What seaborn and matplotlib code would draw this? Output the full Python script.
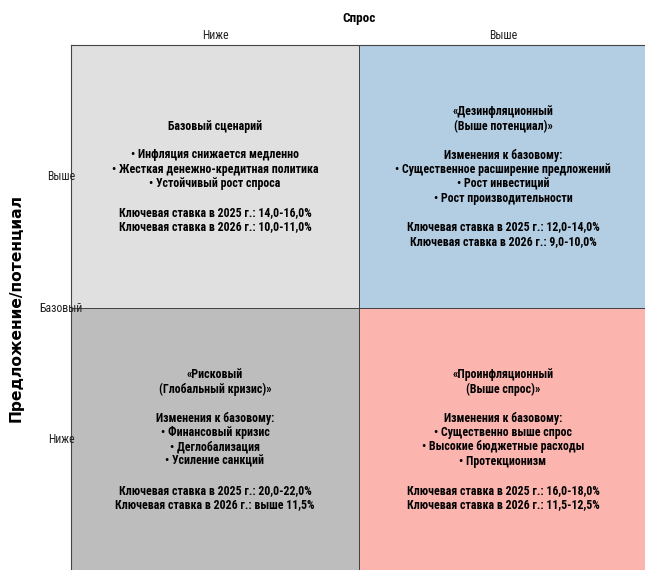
import matplotlib
matplotlib.use("Agg")
import matplotlib.pyplot as plt
from matplotlib.colors import ListedColormap
from matplotlib.transforms import ScaledTranslation
import numpy as np
import seaborn as sns

# quadrant layout: rows = supply (Выше, Ниже), cols = demand (Ниже, Выше)
demand_labels = ["Ниже", "Выше"]
supply_labels = ["Выше", "Базовый", "Ниже"]
quadrant_ids = [[0, 1], [2, 3]]
quadrant_colors = ["#e0e0e0", "#b3cde3", "#bdbdbd", "#fbb4ae"]

quadrant_texts = [
    [
        "Базовый сценарий\n\n"
        "• Инфляция снижается медленно\n"
        "• Жесткая денежно-кредитная политика\n"
        "• Устойчивый рост спроса\n\n"
        "Ключевая ставка в 2025 г.: 14,0-16,0%\n"
        "Ключевая ставка в 2026 г.: 10,0-11,0%",
        "«Дезинфляционный\n(Выше потенциал)»\n\n"
        "Изменения к базовому:\n"
        "• Существенное расширение предложений\n"
        "• Рост инвестиций\n"
        "• Рост производительности\n\n"
        "Ключевая ставка в 2025 г.: 12,0-14,0%\n"
        "Ключевая ставка в 2026 г.: 9,0-10,0%",
    ],
    [
        "«Рисковый\n(Глобальный кризис)»\n\n"
        "Изменения к базовому:\n"
        "• Финансовый кризис\n"
        "• Деглобализация\n"
        "• Усиление санкций\n\n"
        "Ключевая ставка в 2025 г.: 20,0-22,0%\n"
        "Ключевая ставка в 2026 г.: выше 11,5%",
        "«Проинфляционный\n(Выше спрос)»\n\n"
        "Изменения к базовому:\n"
        "• Существенно выше спрос\n"
        "• Высокие бюджетные расходы\n"
        "• Протекционизм\n\n"
        "Ключевая ставка в 2025 г.: 16,0-18,0%\n"
        "Ключевая ставка в 2026 г.: 11,5-12,5%",
    ],
]

sns.set_style("white")
plt.rcParams["font.family"] = ["Roboto Condensed", "DejaVu Sans"]

fig = plt.figure(figsize=(6.45, 5.7), dpi=100)
ax = fig.add_axes([0.110, -0.002, 0.893, 0.923])

sns.heatmap(np.array(quadrant_ids), cmap=ListedColormap(quadrant_colors),
            vmin=-0.5, vmax=3.5, cbar=False, linewidths=0.6,
            linecolor="#444444", ax=ax)
ax.set_axisbelow(False)

for i, row in enumerate(quadrant_texts):
    for j, txt in enumerate(row):
        ax.text(j + 0.5, i + 0.5, txt, ha="center", va="center",
                fontsize=8.6, fontweight="bold", color="black",
                linespacing=1.14)

ax.xaxis.tick_top()
ax.xaxis.set_label_position("top")
ax.set_xticks([0.5, 1.5])
ax.set_xticklabels(demand_labels, fontsize=8.5, color="#222222")
ax.set_yticks([0.5, 1.0, 1.5])
ax.set_yticklabels(supply_labels, fontsize=8.5, color="#222222", rotation=0)
ax.tick_params(axis="both", length=0)
ax.tick_params(axis="y", pad=-3)
ax.tick_params(axis="x", pad=2)
# the middle label sits a bit further right, over the axis line
mid = ax.get_yticklabels()[1]
mid.set_transform(mid.get_transform() + ScaledTranslation(0.07, 0, fig.dpi_scale_trans))

ax.set_xlabel("Спрос", fontsize=9.5, fontweight="bold", color="black",
              labelpad=5)
ax.set_ylabel("Предложение/потенциал", fontsize=11.2, fontweight="bold",
              color="black", family="DejaVu Sans")
ax.yaxis.set_label_coords(-0.082, 0.5)
for s in ax.spines.values():
    s.set_visible(True)
    s.set_color("#444444")
    s.set_linewidth(0.8)

fig.savefig("out.png", dpi=100)
